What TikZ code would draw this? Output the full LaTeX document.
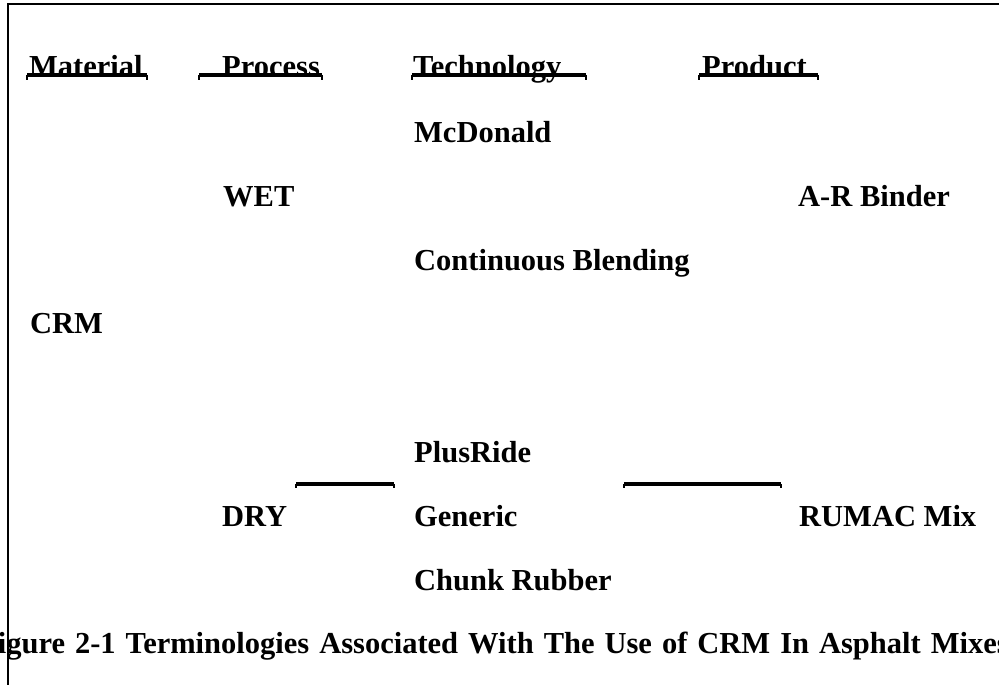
\documentclass[tikz,border=0pt]{standalone}
\usepackage{fontspec}
\setmainfont{Liberation Serif}
\begin{document}
\begin{tikzpicture}[x=1pt, y=-1pt, main/.style = {anchor=base west, inner sep=0pt, font=\fontsize{30.5}{36}\selectfont\bfseries}, bar/.style = {line width=4pt}, tick/.style = {line width=1.2pt}]
    \useasboundingbox (0,0) rectangle (999,685);
    \clip (0,0) rectangle (999,685);
    \draw[line width=2pt] (8,685) -- (8,4.5) -- (999,4.5);

    % Disegna le intestazioni
    \node[main] (mat) at (29,77) {Material};
    \node[main] (proc) at (222,77) {Process};
    \node[main] (tech) at (413,77) {Technology};
    \node[main] (prod) at (702,77) {Product};

    \foreach \a/\b in {27/147, 199/322, 412/586, 699/818} {
        \draw[bar] (\a,75.3) -- (\b,75.3);
        \draw[tick] (\a,75) -- (\a,80);
        \draw[tick] (\b,75) -- (\b,80);
    }

    % Disegna le voci
    \node[main] (mcd) at (414,142) {McDonald};
    \node[main] (wet) at (223,206) {WET};
    \node[main] (arb) at (798,206) {A-R Binder};
    \node[main] (cb) at (414,270) {Continuous Blending};
    \node[main] (crm) at (30,333) {CRM};
    \node[main] (plus) at (414,462) {PlusRide};
    \node[main] (dry) at (222,526) {DRY};
    \node[main] (gen) at (414,526) {Generic};
    \node[main] (rumac) at (799,526) {RUMAC Mix};
    \node[main] (chunk) at (414,590) {Chunk Rubber};

    \coordinate (s1) at (296,484);
    \coordinate (e1) at (394,484);
    \coordinate (s2) at (624,484);
    \coordinate (e2) at (781,484);
    \draw[bar] (s1) -- (e1);
    \draw[bar] (s2) -- (e2);
    \draw[tick] (s1) -- ++(0,4);
    \draw[tick] (e1) -- ++(0,4);
    \draw[tick] (s2) -- ++(0,4);
    \draw[tick] (e2) -- ++(0,4);

    \node[main] (cap) at (-21,653) {\spaceskip=10pt Figure 2-1 Terminologies Associated With The Use of CRM In Asphalt Mixes};

\end{tikzpicture}
\end{document}
